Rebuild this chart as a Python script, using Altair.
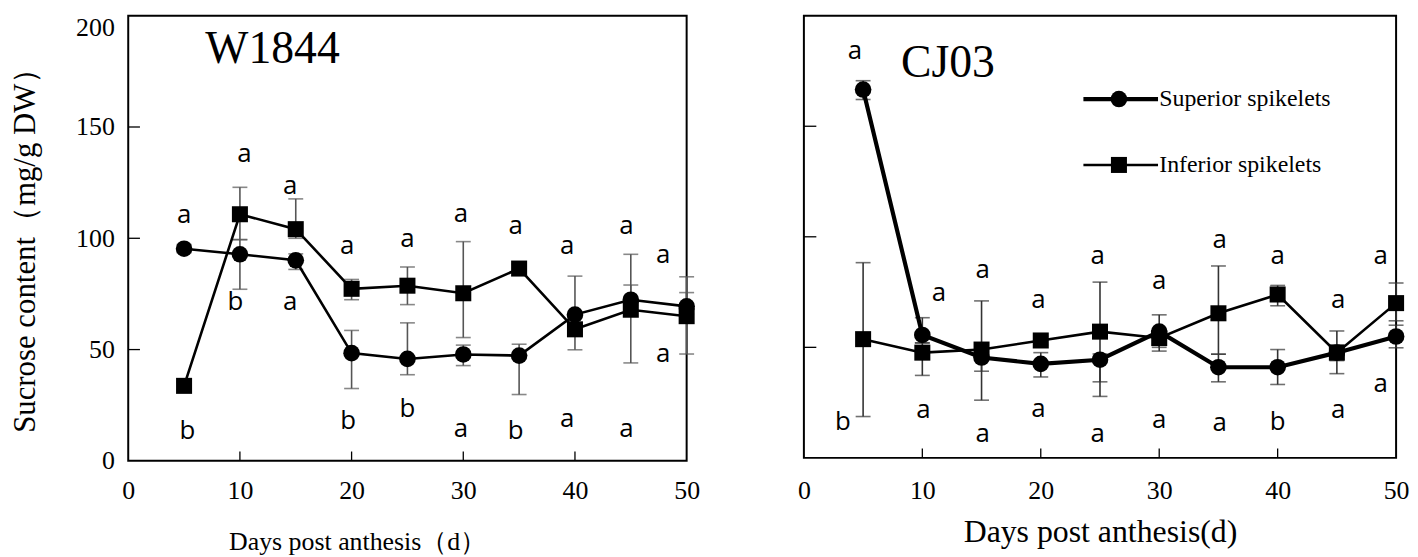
import altair as alt
import pandas as pd

# ---------------- data ----------------
days = [5, 10, 15, 20, 25, 30, 35, 40, 45, 50]

# W1844
w_sup = [95.3, 92.8, 90.1, 48.4, 45.8, 47.8, 47.3, 65.7, 72.4, 69.4]
w_sup_lo = [93.5, 77.1, 86.0, 32.5, 38.7, 42.8, 29.8, 62.0, 70.0, 66.0]
w_sup_hi = [97.2, 99.4, 93.0, 58.6, 62.0, 52.0, 52.4, 83.0, 79.0, 75.6]
w_inf = [33.7, 110.8, 104.1, 77.3, 78.7, 75.3, 86.4, 59.1, 67.9, 65.0]
w_inf_lo = [32.0, 99.4, 100.0, 72.4, 70.2, 55.4, 84.5, 49.9, 44.0, 48.0]
w_inf_hi = [35.5, 122.9, 117.7, 81.5, 87.1, 98.5, 88.3, 62.0, 92.8, 82.7]

# CJ03
c_sup = [166.6, 55.6, 45.4, 42.5, 44.4, 57.1, 41.0, 41.0, 47.6, 54.9]
c_sup_lo = [162.1, 52.0, 39.2, 36.6, 27.8, 50.0, 34.4, 33.2, 38.1, 49.8]
c_sup_hi = [170.6, 63.4, 48.0, 47.6, 47.0, 64.7, 46.9, 49.0, 57.4, 60.0]
c_inf = [53.7, 47.6, 49.0, 53.1, 57.1, 54.2, 65.4, 73.9, 47.6, 70.0]
c_inf_lo = [18.7, 37.3, 26.1, 51.0, 34.4, 48.3, 46.9, 68.8, 44.0, 62.0]
c_inf_hi = [88.3, 52.0, 71.0, 55.0, 79.5, 56.0, 86.8, 78.0, 51.0, 79.1]

# significance letters (x, y, letter)
w_let_x = [5.0, 10.4, 14.5, 19.6, 25.0, 29.8, 34.7, 39.3, 44.6, 47.9,
           5.3, 9.6, 14.5, 19.7, 25.0, 29.8, 34.7, 39.3, 44.6, 47.9]
w_let_y = [110.5, 137.7, 123.6, 96.3, 99.7, 110.8, 105.6, 96.3, 105.6, 92.3,
           13.3, 71.5, 71.5, 17.7, 23.1, 14.2, 13.3, 18.6, 14.2, 47.9]
w_let_t = ["a", "a", "a", "a", "a", "a", "a", "a", "a", "a",
           "b", "b", "a", "b", "b", "a", "b", "a", "a", "a"]

c_let_x = [4.3, 11.4, 15.1, 19.8, 24.8, 30.0, 35.1, 40.0, 45.1, 48.7,
           3.3, 10.1, 15.1, 19.8, 24.8, 30.0, 35.1, 40.0, 45.1, 48.7]
c_let_y = [184.0, 74.7, 84.9, 71.3, 91.2, 80.1, 98.4, 91.2, 71.3, 91.2,
           16.1, 21.5, 11.0, 22.0, 11.0, 17.2, 15.7, 16.1, 21.5, 33.2]
c_let_t = ["a", "a", "a", "a", "a", "a", "a", "a", "a", "a",
           "b", "a", "a", "a", "a", "a", "a", "b", "a", "a"]

x_ticks = [0, 10, 20, 30, 40, 50]
y_ticks = [0, 50, 100, 150, 200]
series = ["Superior spikelets", "Inferior spikelets"]

SERIF = "Liberation Serif"
SANS = "Open Sans"


def make_df(sup, sup_lo, sup_hi, inf, inf_lo, inf_hi):
    rows = []
    for i, d in enumerate(days):
        rows.append(dict(day=d, val=sup[i], lo=sup_lo[i], hi=sup_hi[i], s=series[0]))
        rows.append(dict(day=d, val=inf[i], lo=inf_lo[i], hi=inf_hi[i], s=series[1]))
    return pd.DataFrame(rows)


def panel(df, lx, ly, lt, label, label_pos, w, h, show_y, xaxis, sup_width,
          err_color, legend=False):
    xs = alt.Scale(domain=[0, 50], nice=False, zero=False)
    ys = alt.Scale(domain=[0, 200], nice=False, zero=False)
    if show_y:
        yaxis = alt.Axis(values=y_ticks, title="Sucrose content（mg/g DW）",
                         labelPadding=14, titlePadding=34, ticks=False, domain=False,
                         grid=False, labelFlush=False, titleFontSize=31, titleY=228,
                         labelOffset={"condition": {"test": "datum.value == 200", "value": 12},
                                      "value": 0})
    else:
        yaxis = None
    X = lambda f="day": alt.X(f"{f}:Q", scale=xs, axis=xaxis)
    Y = lambda f="val": alt.Y(f"{f}:Q", scale=ys, axis=yaxis)

    tx = pd.DataFrame(dict(day=x_ticks[1:-1], val=[0] * 4, val2=[4.2] * 4))
    ty = pd.DataFrame(dict(val=y_ticks[1:-1], day=[0] * 3, day2=[1.05] * 3))
    tick_x = alt.Chart(tx).mark_rule(color="black", strokeWidth=1.3).encode(
        x=X(), y=Y(), y2="val2:Q")
    tick_y = alt.Chart(ty).mark_rule(color="black", strokeWidth=1.3).encode(
        x=X(), x2="day2:Q", y=Y())

    err = alt.Chart(df).mark_rule(color=err_color, strokeWidth=1.6).encode(
        x=X(), y=Y("lo"), y2="hi:Q")
    cap_lo = alt.Chart(df).mark_tick(color=err_color, orient="horizontal",
                                     size=15, thickness=1.6).encode(x=X(), y=Y("lo"))
    cap_hi = alt.Chart(df).mark_tick(color=err_color, orient="horizontal",
                                     size=15, thickness=1.6).encode(x=X(), y=Y("hi"))

    sup_line = alt.Chart(df[df.s == series[0]]).mark_line(
        color="black", strokeWidth=sup_width).encode(x=X(), y=Y())
    inf_line = alt.Chart(df[df.s == series[1]]).mark_line(
        color="black", strokeWidth=2.6).encode(x=X(), y=Y())
    sup_pts = alt.Chart(df[df.s == series[0]]).mark_point(
        shape="circle", filled=True, color="black", size=280, opacity=1).encode(x=X(), y=Y())
    inf_pts = alt.Chart(df[df.s == series[1]]).mark_point(
        shape="square", filled=True, color="black", size=260, opacity=1).encode(x=X(), y=Y())

    ldf = pd.DataFrame(dict(day=lx, val=ly, t=lt))
    letters = alt.Chart(ldf).mark_text(font=SANS, fontSize=26, color="black",
                                       align="center", baseline="middle").encode(
        x=X(), y=Y(), text="t:N")

    tdf = pd.DataFrame(dict(day=[label_pos[0]], val=[label_pos[1]], t=[label]))
    title_txt = alt.Chart(tdf).mark_text(font=SERIF, fontSize=46, color="black",
                                         align="left", baseline="middle").encode(
        x=X(), y=Y(), text="t:N")

    layers = [tick_x, tick_y, err, cap_lo, cap_hi, sup_line, inf_line,
              sup_pts, inf_pts, letters, title_txt]

    if legend:
        lg_y = [162.3, 132.5]
        lg = pd.DataFrame(dict(day=[23.6, 23.6], day2=[29.9, 29.9], mid=[26.6, 26.6],
                               tx=[30.0, 30.0], val=lg_y, t=series))
        lg_line1 = alt.Chart(lg.iloc[[0]]).mark_rule(color="black", strokeWidth=sup_width).encode(
            x=X(), x2="day2:Q", y=Y())
        lg_line2 = alt.Chart(lg.iloc[[1]]).mark_rule(color="black", strokeWidth=2.6).encode(
            x=X(), x2="day2:Q", y=Y())
        lg_p1 = alt.Chart(lg.iloc[[0]]).mark_point(shape="circle", filled=True, color="black",
                                                   size=280, opacity=1).encode(x=X("mid"), y=Y())
        lg_p2 = alt.Chart(lg.iloc[[1]]).mark_point(shape="square", filled=True, color="black",
                                                   size=260, opacity=1).encode(x=X("mid"), y=Y())
        lg_t = alt.Chart(lg).mark_text(font=SERIF, fontSize=24, color="black",
                                       align="left", baseline="middle").encode(
            x=X("tx"), y=Y(), text="t:N")
        layers += [lg_line1, lg_line2, lg_p1, lg_p2, lg_t]

    return alt.layer(*layers).properties(width=w, height=h)


left_xaxis = alt.Axis(values=x_ticks, title="Days post anthesis（d）", labelPadding=17,
                      titlePadding=25, ticks=False, domain=False, grid=False,
                      labelFlush=False, titleFontSize=26, titleAnchor="start",
                      titleAlign="left", titleX=101)
right_xaxis = alt.Axis(values=x_ticks, title="Days post anthesis(d)", labelPadding=20,
                       titlePadding=13, ticks=False, domain=False, grid=False,
                       labelFlush=False, titleFontSize=32)

left = panel(make_df(w_sup, w_sup_lo, w_sup_hi, w_inf, w_inf_lo, w_inf_hi),
             w_let_x, w_let_y, w_let_t, "W1844", (6.9, 185.0), 562, 448, True,
             left_xaxis, 2.6, "#555555")
right = panel(make_df(c_sup, c_sup_lo, c_sup_hi, c_inf, c_inf_lo, c_inf_hi),
              c_let_x, c_let_y, c_let_t, "CJ03", (8.2, 178.5), 596, 445, False,
              right_xaxis, 4.2, "#333333", legend=True)

chart = alt.hconcat(left, right, spacing=118, bounds="flush").properties(
    padding={"left": 1, "top": 4, "right": 0, "bottom": 0}
).configure_view(
    stroke="black", strokeWidth=2
).configure_axis(
    labelFont=SERIF, labelFontSize=26, labelColor="black",
    titleFont=SERIF, titleFontSize=28, titleFontWeight="normal", titleColor="black"
)

chart.save("out.html", embed_options={"renderer": "svg", "actions": False})
